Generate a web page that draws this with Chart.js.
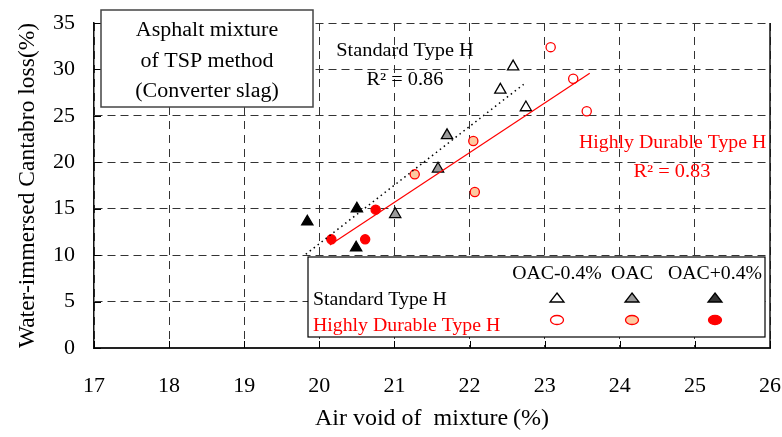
<!DOCTYPE html>
<html>
<head>
<meta charset="utf-8">
<script src="https://cdn.jsdelivr.net/npm/chart.js@4.4.1/dist/chart.umd.min.js"></script>
<style>
html, body { margin: 0; padding: 0; background: #fff; }
#wrap { width: 782px; height: 437px; }
</style>
</head>
<body>
<div id="wrap"><canvas id="grafico"></canvas></div>
<script>
// valores: vazios (%) x perda Cantabro imersa (%)
const stdLowX  = [22.58, 22.41, 22.75];
const stdLowY  = [30.3, 27.8, 25.9];
const stdOacX  = [21.70, 21.58, 21.01];
const stdOacY  = [22.9, 19.3, 14.4];
const stdHighX = [20.50, 19.84, 20.49];
const stdHighY = [15.0, 13.6, 10.8];

const hdLowX  = [23.08, 23.38, 23.56];
const hdLowY  = [32.4, 29.0, 25.5];
const hdOacX  = [22.05, 21.27, 22.07];
const hdOacY  = [22.3, 18.7, 16.8];
const hdHighX = [20.75, 20.16, 20.61];
const hdHighY = [14.9, 11.7, 11.7];

// linhas de tendencia (pontos extremos)
const stdFitX = [19.82, 22.72];
const stdFitY = [10.1, 28.4];
const hdFitX  = [20.14, 23.60];
const hdFitY  = [11.1, 29.6];

const xTicks = [17, 18, 19, 20, 21, 22, 23, 24, 25, 26];
const yTicks = [0, 5, 10, 15, 20, 25, 30, 35];

const groupLabels = ['OAC-0.4%', 'OAC', 'OAC+0.4%'];
const seriesNames = ['Standard Type H', 'Highly Durable Type H'];
const stdR2 = 0.86;
const hdR2 = 0.83;

const SERIF = '"Liberation Serif", "Times New Roman", serif';
const RED = '#ff0000';
const ESTICA = 1.1; // a figura original esta levemente esticada na horizontal

function pares(xs, ys) {
    return xs.map((x, i) => ({ x: x, y: ys[i] }));
}

function serieTriangulo(label, xs, ys, fill) {
    return {
        label: label,
        data: pares(xs, ys),
        pointStyle: 'triangle',
        pointRadius: 6.5,
        pointBackgroundColor: fill,
        pointBorderColor: '#000',
        pointBorderWidth: 1.3,
        showLine: false
    };
}

function serieCirculo(label, xs, ys, fill) {
    return {
        label: label,
        data: pares(xs, ys),
        pointStyle: 'circle',
        pointRadius: 4.6,
        pointBackgroundColor: fill,
        pointBorderColor: RED,
        pointBorderWidth: 1.3,
        showLine: false
    };
}

function texto(ctx, t, x, y) {
    ctx.save();
    ctx.translate(x, y);
    ctx.scale(ESTICA, 1);
    ctx.fillText(t, 0, 0);
    ctx.restore();
}

// desenha caixas de texto, legenda, borda direita e ticks internos
const anotacoes = {
    id: 'anotacoes',
    afterDatasetsDraw(chart) {
        const ctx = chart.ctx;
        const a = chart.chartArea;
        const xs = chart.scales.x;
        const ys = chart.scales.y;
        ctx.save();

        // borda direita solida
        ctx.strokeStyle = '#111';
        ctx.lineWidth = 1.5;
        ctx.beginPath();
        ctx.moveTo(a.right, a.top);
        ctx.lineTo(a.right, a.bottom);
        ctx.stroke();

        // ticks internos
        ctx.lineWidth = 1;
        ctx.strokeStyle = '#000';
        xTicks.forEach(v => {
            const px = Math.round(xs.getPixelForValue(v)) + 0.5;
            ctx.beginPath();
            ctx.moveTo(px, a.bottom);
            ctx.lineTo(px, a.bottom - 7);
            ctx.stroke();
        });
        yTicks.forEach(v => {
            const py = Math.round(ys.getPixelForValue(v)) + 0.5;
            ctx.beginPath();
            ctx.moveTo(a.left, py);
            ctx.lineTo(a.left + 7, py);
            ctx.stroke();
        });

        // caixa do titulo
        const tb = { l: a.left + 7, t: a.top - 13, r: a.left + 219, b: a.top + 84 };
        ctx.fillStyle = '#fff';
        ctx.fillRect(tb.l, tb.t, tb.r - tb.l, tb.b - tb.t);
        ctx.strokeStyle = '#444';
        ctx.lineWidth = 1.5;
        ctx.strokeRect(tb.l, tb.t, tb.r - tb.l, tb.b - tb.t);
        ctx.fillStyle = '#000';
        ctx.font = '20px ' + SERIF;
        ctx.textAlign = 'center';
        ctx.textBaseline = 'middle';
        const cx = (tb.l + tb.r) / 2;
        texto(ctx, 'Asphalt mixture', cx, tb.t + 21);
        texto(ctx, 'of TSP method', cx, tb.t + 52);
        texto(ctx, '(Converter slag)', cx, tb.t + 82);

        // rotulos das retas
        ctx.font = '18.5px ' + SERIF;
        texto(ctx, seriesNames[0], 405, 51);
        texto(ctx, 'R\u00b2 = ' + stdR2.toFixed(2), 405, 80);
        ctx.fillStyle = RED;
        ctx.textAlign = 'left';
        ctx.font = '18px ' + SERIF;
        texto(ctx, seriesNames[1], 579, 143);
        ctx.textAlign = 'center';
        ctx.font = '18.5px ' + SERIF;
        texto(ctx, 'R\u00b2 = ' + hdR2.toFixed(2), 672, 172);

        // legenda
        const lb = { l: 308, t: 257, r: 765, b: 337 };
        ctx.fillStyle = '#fff';
        ctx.fillRect(lb.l, lb.t, lb.r - lb.l, lb.b - lb.t);
        ctx.strokeStyle = '#000';
        ctx.lineWidth = 1.2;
        ctx.strokeRect(lb.l, lb.t, lb.r - lb.l, lb.b - lb.t);

        const colX = [557, 632, 715];
        ctx.font = '18px ' + SERIF;
        ctx.fillStyle = '#000';
        ctx.textAlign = 'center';
        groupLabels.forEach((t, i) => texto(ctx, t, colX[i], 274));
        ctx.textAlign = 'left';
        texto(ctx, seriesNames[0], 313, 300);
        ctx.fillStyle = RED;
        texto(ctx, seriesNames[1], 313, 326);

        const triFill = ['#fff', '#999', '#333'];
        const cirFill = ['#fff', '#fdc9a0', RED];
        colX.forEach((x, i) => {
            ctx.beginPath();
            ctx.moveTo(x, 293);
            ctx.lineTo(x + 7, 302);
            ctx.lineTo(x - 7, 302);
            ctx.closePath();
            ctx.fillStyle = triFill[i];
            ctx.fill();
            ctx.strokeStyle = '#000';
            ctx.lineWidth = 1.3;
            ctx.stroke();

            ctx.beginPath();
            ctx.ellipse(x, 320, 6.5, 4.5, 0, 0, Math.PI * 2);
            ctx.fillStyle = cirFill[i];
            ctx.fill();
            ctx.strokeStyle = RED;
            ctx.lineWidth = 1.3;
            ctx.stroke();
        });

        ctx.restore();
    }
};

const ctx = document.getElementById('grafico').getContext('2d');
Chart.defaults.font.family = SERIF;
Chart.defaults.color = '#000';

new Chart(ctx, {
    type: 'scatter',
    data: {
        datasets: [
            {
                label: 'fit std',
                data: pares(stdFitX, stdFitY),
                showLine: true,
                borderColor: '#000',
                borderWidth: 1.5,
                borderDash: [1.5, 3.5],
                pointRadius: 0
            },
            {
                label: 'fit hd',
                data: pares(hdFitX, hdFitY),
                showLine: true,
                borderColor: RED,
                borderWidth: 1.2,
                pointRadius: 0
            },
            serieTriangulo(seriesNames[0] + ' ' + groupLabels[0], stdLowX, stdLowY, '#fff'),
            serieTriangulo(seriesNames[0] + ' ' + groupLabels[1], stdOacX, stdOacY, '#9a9a9a'),
            serieTriangulo(seriesNames[0] + ' ' + groupLabels[2], stdHighX, stdHighY, '#000'),
            serieCirculo(seriesNames[1] + ' ' + groupLabels[0], hdLowX, hdLowY, '#fff'),
            serieCirculo(seriesNames[1] + ' ' + groupLabels[1], hdOacX, hdOacY, '#fdc9a0'),
            serieCirculo(seriesNames[1] + ' ' + groupLabels[2], hdHighX, hdHighY, RED)
        ]
    },
    options: {
        responsive: true,
        maintainAspectRatio: false,
        animation: false,
        layout: { padding: { left: 0, top: 23, right: 12, bottom: 0 } },
        plugins: {
            legend: { display: false },
            tooltip: { enabled: false }
        },
        scales: {
            x: {
                type: 'linear',
                min: 17,
                max: 26,
                afterFit: scale => {
                    scale.height = 89;
                    scale.paddingLeft = 0;
                    scale.paddingRight = 0;
                },
                afterBuildTicks: scale => { scale.ticks = xTicks.map(v => ({ value: v })); },
                ticks: { padding: 25, font: { size: 22 }, color: '#000' },
                grid: { color: '#333', lineWidth: 1, drawTicks: false },
                border: { display: true, color: '#222', width: 2, dash: [8, 6] },
                title: {
                    display: true,
                    text: 'Air void of  mixture\u2009(%)',
                    font: { size: 24 },
                    padding: { top: 0, bottom: 4 }
                }
            },
            y: {
                type: 'linear',
                min: 0,
                max: 35,
                afterFit: scale => {
                    scale.width = 94;
                    scale.paddingTop = 0;
                    scale.paddingBottom = 0;
                },
                afterBuildTicks: scale => { scale.ticks = yTicks.map(v => ({ value: v })); },
                ticks: { padding: 19, font: { size: 22 }, color: '#000' },
                grid: { color: '#333', lineWidth: 1, drawTicks: false },
                border: { display: true, color: '#111', width: 1.5, dash: [8, 5] },
                title: {
                    display: true,
                    text: 'Water-immersed Cantabro loss(%)',
                    font: { size: 23.5 },
                    padding: { top: 14, bottom: 0 }
                }
            }
        }
    },
    plugins: [anotacoes]
});
</script>
</body>
</html>
